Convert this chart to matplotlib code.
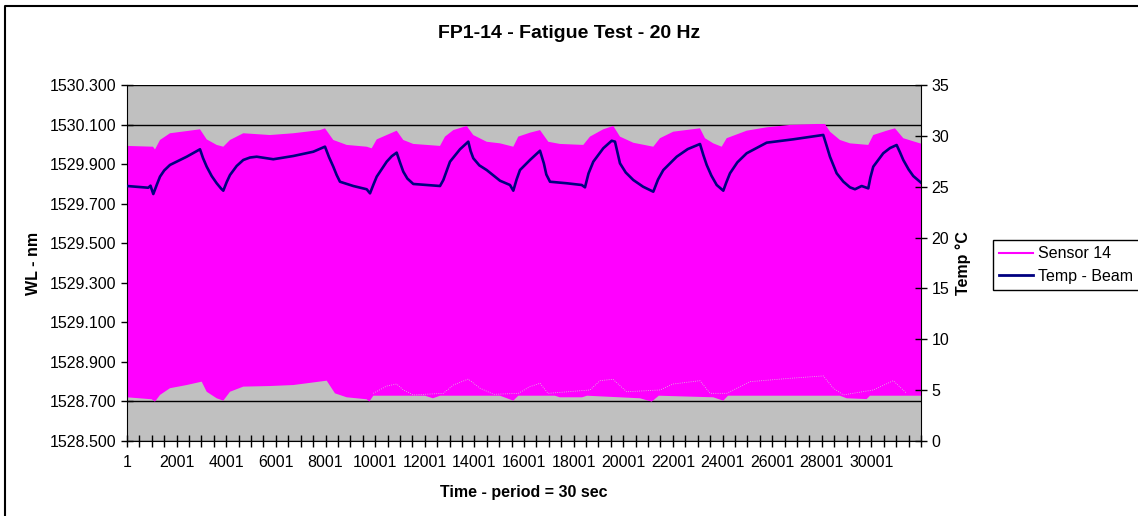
import numpy as np
import matplotlib
matplotlib.use("Agg")
import matplotlib.pyplot as plt
from matplotlib.lines import Line2D

plt.rcParams['font.family'] = ['Liberation Sans', 'DejaVu Sans']

# Sensor 14 band: upper and lower edge of the oscillation (nm), by sample index
upper_idx = [0, 1048, 1128, 1330, 1732, 2406, 2942, 3212, 3615, 3881, 4151, 4687, 5763, 6702,
             7778, 7979, 8314, 8855, 9660, 9861, 10064, 10869, 11135, 11538, 12615, 12816, 13151,
             13690, 13956, 14496, 15033, 15569, 15770, 16242, 16645, 16980, 17450, 18389, 18659,
             19195, 19598, 19868, 20405, 21211, 21480, 22016, 23093, 23294, 23628, 23967, 24168,
             24975, 25780, 26717, 27794, 28130, 28331, 28734, 29137, 29875, 30076, 30617, 30951,
             31286, 31958, 32000]
upper_wl = [1529.992, 1529.988, 1529.974, 1530.022, 1530.056, 1530.067, 1530.076, 1530.025,
            1529.997, 1529.988, 1530.022, 1530.056, 1530.047, 1530.056, 1530.072, 1530.081,
            1530.022, 1529.997, 1529.988, 1529.980, 1530.025, 1530.069, 1530.022, 1530.002,
            1529.992, 1530.039, 1530.072, 1530.093, 1530.047, 1530.013, 1530.005, 1529.988,
            1530.039, 1530.059, 1530.072, 1530.013, 1530.002, 1529.997, 1530.039, 1530.076,
            1530.093, 1530.039, 1530.008, 1529.988, 1530.031, 1530.064, 1530.081, 1530.031,
            1530.005, 1529.988, 1530.031, 1530.069, 1530.086, 1530.098, 1530.103, 1530.103,
            1530.064, 1530.022, 1530.005, 1529.997, 1530.047, 1530.069, 1530.081, 1530.031,
            1530.005, 1530.004]

lower_idx = [0, 996, 1128, 1330, 1732, 2406, 3010, 3212, 3615, 3881, 4151, 4687, 5763, 6702,
             8048, 8382, 8855, 9660, 9765, 9926, 12009, 12331, 12615, 15033, 15569, 15770, 17245,
             17444, 18341, 18540, 20675, 21148, 21431, 23628, 24032, 24222, 28734, 29004, 29810,
             29942, 32000]
lower_wl = [1528.721, 1528.711, 1528.699, 1528.733, 1528.767, 1528.783, 1528.800, 1528.749,
            1528.716, 1528.704, 1528.749, 1528.775, 1528.778, 1528.783, 1528.805, 1528.741,
            1528.721, 1528.711, 1528.699, 1528.729, 1528.729, 1528.716, 1528.729, 1528.729,
            1528.704, 1528.729, 1528.729, 1528.721, 1528.721, 1528.729, 1528.716, 1528.699,
            1528.729, 1528.721, 1528.704, 1528.729, 1528.729, 1528.716, 1528.712, 1528.729,
            1528.729]

# faint trace of the true lower edge where the band is clipped
trace_idx = [9926, 10466, 10869, 11135, 11538, 12749, 13151, 13755, 14226, 14773, 15770, 16242,
             16645, 16967, 18659, 19062, 19586, 20139, 21480, 22004, 23093, 23496, 24168, 25107,
             26717, 28061, 28466, 28869, 30076, 30882, 31422]
trace_wl = [1528.741, 1528.778, 1528.788, 1528.758, 1528.733, 1528.741, 1528.783, 1528.813,
            1528.767, 1528.736, 1528.741, 1528.775, 1528.792, 1528.741, 1528.758, 1528.805,
            1528.812, 1528.749, 1528.758, 1528.788, 1528.805, 1528.741, 1528.741, 1528.800,
            1528.817, 1528.829, 1528.767, 1528.733, 1528.758, 1528.805, 1528.741]

# Temp - Beam (deg C)
temp_idx = [0, 858, 947, 1060, 1197, 1330, 1500, 1732, 2406, 2942, 3063, 3212, 3413, 3615, 3788,
            3881, 4018, 4151, 4420, 4687, 4957, 5227, 5896, 6702, 7508, 7979, 8140, 8314, 8450,
            8583, 9120, 9660, 9794, 9930, 10064, 10466, 10670, 10869, 11000, 11135, 11300, 11538,
            12615, 12749, 13017, 13420, 13755, 13850, 13956, 14200, 14496, 15033, 15435, 15569,
            15700, 15838, 16242, 16645, 16800, 16900, 17048, 17720, 18325, 18458, 18600, 18793,
            19195, 19534, 19667, 19868, 20100, 20405, 20800, 21211, 21400, 21615, 22154, 22600,
            23093, 23230, 23363, 23550, 23766, 24032, 24150, 24302, 24600, 24975, 25780, 26852,
            28061, 28200, 28331, 28601, 28870, 29137, 29339, 29609, 29875, 29960, 30076, 30479,
            30750, 31018, 31150, 31286, 31500, 31688, 32000]
temp_c = [25.07, 24.90, 25.10, 24.28, 25.17, 25.99, 26.60, 27.14, 27.95, 28.68, 27.82, 26.97,
          26.05, 25.34, 24.83, 24.61, 25.46, 26.15, 27.04, 27.63, 27.87, 27.95, 27.70, 28.02,
          28.44, 28.94, 27.92, 26.97, 26.15, 25.49, 25.07, 24.75, 24.35, 25.20, 25.99, 27.46,
          28.00, 28.35, 27.40, 26.48, 25.80, 25.27, 25.07, 25.66, 27.46, 28.68, 29.43, 28.50,
          27.80, 27.10, 26.64, 25.59, 25.17, 24.61, 25.70, 26.64, 27.63, 28.54, 27.30, 26.20,
          25.49, 25.34, 25.17, 24.94, 26.30, 27.46, 28.78, 29.52, 29.43, 27.30, 26.40, 25.66,
          25.00, 24.51, 25.70, 26.64, 27.95, 28.70, 29.20, 28.10, 27.14, 26.10, 25.17, 24.61,
          25.40, 26.32, 27.40, 28.29, 29.33, 29.66, 30.09, 29.00, 27.95, 26.32, 25.50, 24.94,
          24.75, 25.07, 24.84, 25.90, 26.97, 28.29, 28.80, 29.10, 28.40, 27.63, 26.70, 26.05,
          25.40]

n_samples = 32000
x_tick_pos = list(range(0, 32001, 500))
x_labels = ['1', '2001', '4001', '6001', '8001', '10001', '12001', '14001', '16001',
            '18001', '20001', '22001', '24001', '26001', '28001', '30001']

fig = plt.figure(figsize=(11.38, 5.16), dpi=100)
ax = fig.add_axes([127 / 1138, 75 / 516, 794 / 1138, 356 / 516])
ax.set_facecolor('#c0c0c0')

# band polygon: upper edge left->right, lower edge right->left
poly_x = np.concatenate([upper_idx, lower_idx[::-1]])
poly_y = np.concatenate([upper_wl, lower_wl[::-1]])
ax.fill(poly_x, poly_y, color='#ff00ff', lw=0, zorder=2)
ax.plot(trace_idx, trace_wl, color='#d8c8d8', lw=0.6, ls=':', zorder=3)

ax.set_xlim(0, n_samples)
ax.set_ylim(1528.5, 1530.3)
ax.set_yticks(np.arange(1528.5, 1530.31, 0.2))
ax.yaxis.set_major_formatter(matplotlib.ticker.FormatStrFormatter('%.3f'))
ax.yaxis.grid(True, color='black', lw=1)
ax.set_axisbelow(True)

labels = []
for p in x_tick_pos:
    labels.append(x_labels[p // 2000] if p % 2000 == 0 and p // 2000 < len(x_labels) else '')
ax.set_xticks(x_tick_pos)
ax.set_xticklabels(labels)

for s in ['top', 'right']:
    ax.spines[s].set_visible(False)
ax.tick_params(direction='inout', length=8, width=1, labelsize=11.5, color='black')
ax.tick_params(axis='x', pad=6)

ax2 = ax.twinx()
ax2.plot(temp_idx, temp_c, color='#000080', lw=1.9, zorder=4)
ax2.set_ylim(0, 35)
ax2.set_yticks(range(0, 36, 5))
for s in ['top', 'left', 'bottom']:
    ax2.spines[s].set_visible(False)
ax2.tick_params(direction='inout', length=8, width=1, labelsize=11.5)

ax.set_ylabel('WL - nm', fontsize=11.5, fontweight='bold')
ax.yaxis.set_label_coords(-0.108, 0.5)
ax2.set_ylabel('Temp °C', fontsize=11.5, fontweight='bold')
ax2.yaxis.set_label_coords(1.043, 0.5)
ax.set_xlabel('Time - period = 30 sec', fontsize=11.5, fontweight='bold')
ax.xaxis.set_label_coords(0.5, -0.125)

fig.text(0.5, 1 - 33 / 516, 'FP1-14 - Fatigue Test - 20 Hz', ha='center', va='center',
         fontsize=14, fontweight='bold')

handles = [Line2D([], [], color='#ff00ff', lw=1.5), Line2D([], [], color='#000080', lw=2)]
leg = fig.legend(handles, ['Sensor 14', 'Temp - Beam'], loc='upper left',
                 bbox_to_anchor=(993 / 1138, 1 - 240 / 516), fontsize=11.5, frameon=True,
                 fancybox=False, edgecolor='black', framealpha=1, borderpad=0.4,
                 handlelength=2.1, handletextpad=0.3, labelspacing=0.45, borderaxespad=0)
leg.get_frame().set_linewidth(1)

# chart area border (left and top edges visible)
fig.add_artist(Line2D([5 / 1138, 5 / 1138, 1], [0, 1 - 6 / 516, 1 - 6 / 516],
                      color='black', lw=1.5, transform=fig.transFigure))

fig.savefig('out.png', dpi=100)
